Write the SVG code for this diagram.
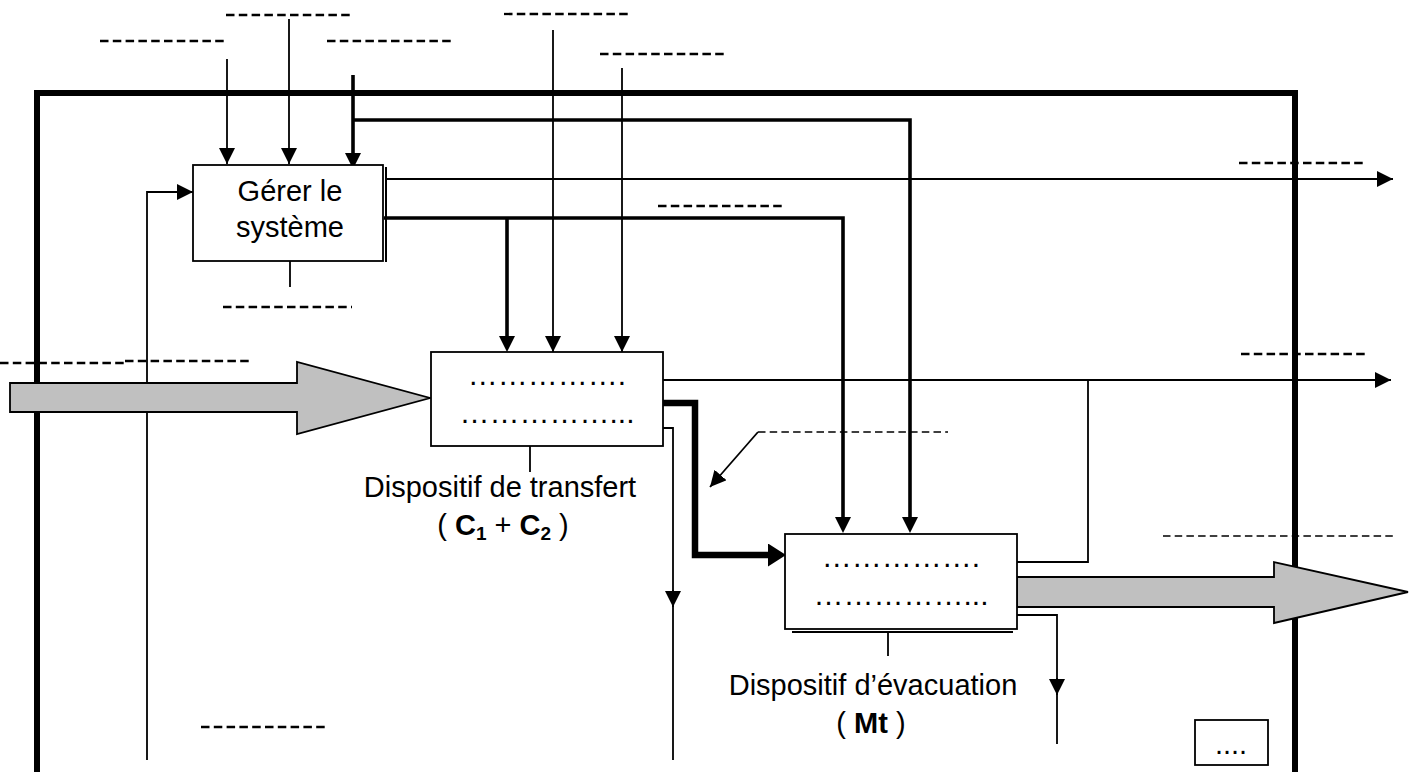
<svg xmlns="http://www.w3.org/2000/svg" width="1415" height="772" viewBox="0 0 1415 772">
<style>
  .t { font-family: "Liberation Sans", Arial, sans-serif; font-size: 29px; fill: #000; }
  .dots { font-family: "Liberation Sans", Arial, sans-serif; font-size: 30px; fill: #000; }
  .b { font-weight: bold; }
  .box { fill: #fff; stroke: #000; stroke-width: 1.8; }
  .thin { fill: none; stroke: #000; stroke-width: 1.8; }
  .med { fill: none; stroke: #000; stroke-width: 3.6; }
  .heavy { fill: none; stroke: #000; stroke-width: 6.5; }
  .blank { stroke: #000; stroke-width: 2.3; stroke-dasharray: 8.5 4.3; }
  .blank2 { stroke: #000; stroke-width: 1.6; stroke-dasharray: 7.5 4.2; }
  .flow { fill: #c0c0c0; stroke: #000; stroke-width: 1.8; stroke-linejoin: miter; }
</style>
<defs>
  <marker id="a" markerUnits="userSpaceOnUse" markerWidth="17" markerHeight="17" refX="16" refY="8" orient="auto">
    <path d="M0,0 L16,8 L0,16 z" fill="#000"/>
  </marker>
  <marker id="a4" markerUnits="userSpaceOnUse" markerWidth="17" markerHeight="17" refX="10" refY="8" orient="auto">
    <path d="M0,0 L16,8 L0,16 z" fill="#000"/>
  </marker>
  <marker id="a6" markerUnits="userSpaceOnUse" markerWidth="20" markerHeight="24" refX="10" refY="11.5" orient="auto">
    <path d="M0,0 L18,11.5 L0,23 z" fill="#000"/>
  </marker>
</defs>
<rect width="1415" height="772" fill="#fff"/>

<g id="frame">
  <rect x="37" y="93" width="1258" height="720" fill="none" stroke="#000" stroke-width="6"/>
</g>

<g id="connectors">
  <path class="thin" d="M227,59 V164" marker-end="url(#a)"/>
  <path class="thin" d="M289,19 V164" marker-end="url(#a)"/>
  <path class="med" d="M353,75 V163" marker-end="url(#a4)"/>
  <path class="med" d="M353,120 H910 V527" marker-end="url(#a4)"/>
  <path class="thin" d="M387,179 H1393" marker-end="url(#a)"/>
  <path class="med" d="M384,218 H843 V527" marker-end="url(#a4)"/>
  <path class="med" d="M507,218 V346" marker-end="url(#a4)"/>
  <path class="thin" d="M553,30 V352" marker-end="url(#a)"/>
  <path class="thin" d="M622,68 V352" marker-end="url(#a)"/>
  <path class="thin" d="M147,760 V192 H193" marker-end="url(#a)"/>
  <path class="thin" d="M663,380 H1391" marker-end="url(#a)"/>
  <path class="thin" d="M1017,562 H1088 V380"/>
  <path class="heavy" d="M663,403 H695 V555 H778" marker-end="url(#a6)"/>
  <path class="thin" d="M663,428 H673 V760"/>
  <path class="thin" d="M673,590 V607" marker-end="url(#a)"/>
  <path class="thin" d="M1017,615 H1057 V744"/>
  <path class="thin" d="M1057,678 V695" marker-end="url(#a)"/>
  <path class="thin" d="M758,432 L710,487" marker-end="url(#a)"/>
  <polygon class="flow" points="10,383 297,383 297,362 430,398 297,434 297,412 10,412"/>
  <polygon class="flow" points="1017,577 1274,577 1274,562 1408,592 1274,623 1274,607 1017,607"/>
  <path class="thin" d="M290,261 V287"/>
  <path class="thin" d="M530,446 V472"/>
  <path class="thin" d="M888,631 V656"/>
</g>

<g id="blanks">
  <line class="blank" x1="100" y1="41" x2="228" y2="41"/>
  <line class="blank" x1="226" y1="15" x2="354" y2="15"/>
  <line class="blank" x1="327" y1="41" x2="455" y2="41"/>
  <line class="blank" x1="504" y1="14" x2="632" y2="14"/>
  <line class="blank" x1="600" y1="54" x2="727" y2="54"/>
  <line class="blank" x1="658" y1="206" x2="786" y2="206"/>
  <line class="blank" x1="223" y1="307" x2="352" y2="307"/>
  <line class="blank" x1="0" y1="363" x2="125" y2="363"/>
  <line class="blank" x1="125" y1="361" x2="253" y2="361"/>
  <line class="blank" x1="1239" y1="163" x2="1367" y2="163"/>
  <line class="blank" x1="1241" y1="354" x2="1369" y2="354"/>
  <line class="blank2" x1="758" y1="432" x2="948" y2="432"/>
  <line class="blank2" x1="1163" y1="536" x2="1393" y2="536"/>
  <line class="blank" x1="201" y1="727" x2="329" y2="727"/>
</g>

<g id="gerer">
  <line x1="386" y1="167" x2="386" y2="262" stroke="#000" stroke-width="2"/>
  <rect class="box" x="193" y="165" width="190" height="96"/>
  <text class="t" x="290" y="201" text-anchor="middle">Gérer le</text>
  <text class="t" x="290" y="237" text-anchor="middle">système</text>
</g>

<g id="transfert">
  <rect class="box" x="431" y="352" width="232" height="94"/>
  <text class="dots" x="547" y="385" text-anchor="middle">…………….</text>
  <text class="dots" x="547" y="423" text-anchor="middle">……………...</text>
  <text class="t" x="500" y="497" text-anchor="middle">Dispositif de transfert</text>
  <text class="t" x="503" y="535" text-anchor="middle">( <tspan class="b">C</tspan><tspan class="b" font-size="19" dy="5">1</tspan><tspan dy="-5"> + </tspan><tspan class="b">C</tspan><tspan class="b" font-size="19" dy="5">2</tspan><tspan dy="-5"> )</tspan></text>
</g>

<g id="evacuation">
  <line x1="792" y1="632" x2="1013" y2="632" stroke="#000" stroke-width="2"/>
  <rect class="box" x="785" y="534" width="232" height="95"/>
  <text class="dots" x="901" y="567" text-anchor="middle">…………….</text>
  <text class="dots" x="901" y="605" text-anchor="middle">……………...</text>
  <text class="t" x="873" y="695" text-anchor="middle">Dispositif d’évacuation</text>
  <text class="t" x="871" y="733" text-anchor="middle">( <tspan class="b">Mt</tspan> )</text>
</g>

<g id="small-box">
  <rect class="box" x="1195" y="720" width="73" height="45"/>
  <text class="t" x="1231" y="754" text-anchor="middle">....</text>
</g>
</svg>
